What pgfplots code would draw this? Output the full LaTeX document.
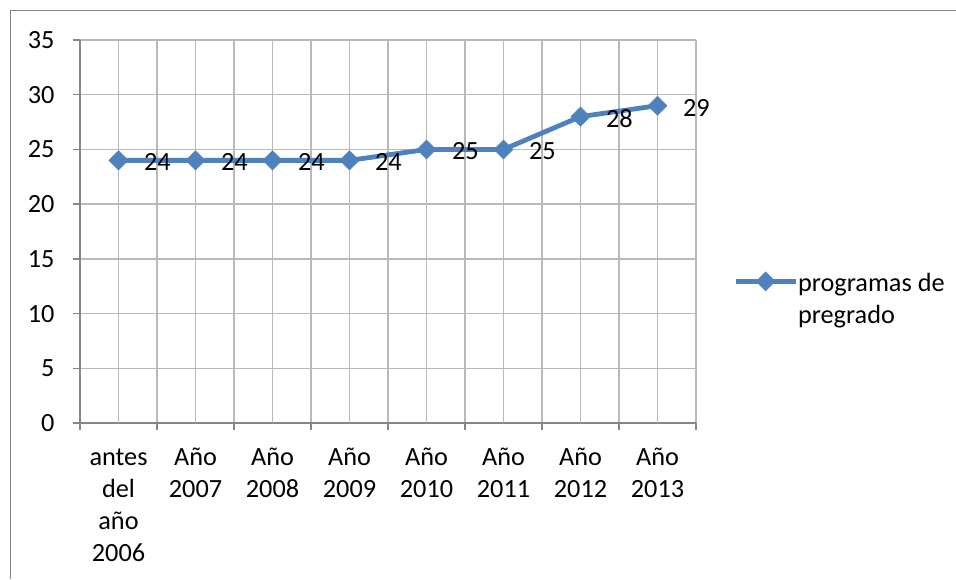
\documentclass[border=0pt]{standalone}
\usepackage{fontspec}
\setmainfont{Carlito}
\usepackage{pgfplots}
\pgfplotsset{compat=1.18}
\definecolor{serie}{RGB}{79,129,189}
\definecolor{axisgray}{RGB}{134,134,134}
\definecolor{gridgray}{RGB}{185,185,185}
\newcommand{\cf}{\fontsize{19.7}{24}\selectfont}
\begin{document}
\begin{tikzpicture}
\useasboundingbox (0pt,0pt) rectangle (717pt,-434.25pt);
\draw[axisgray, line width=1.1pt] (7.9pt,-434.25pt) -- (7.9pt,-7.9pt) -- (717pt,-7.9pt);
\begin{axis}[
  at={(60pt,-317.25pt)}, anchor=south west,
  scale only axis, width=462pt, height=287.25pt,
  xmin=-0.5, xmax=7.5, ymin=0, ymax=35,
  axis lines*=left,
  axis line style={-, axisgray, line width=1.1pt},
  xtick={-0.5,0.5,...,7.5}, xticklabels={},
  ytick={0,5,...,35},
  xmajorgrids, ymajorgrids,
  major grid style={gridgray, line width=1pt},
  tick align=outside, major tick length=5.5pt,
  tick style={axisgray, line width=1.1pt},
  /pgf/number format/assume math mode=true,
  tick label style={font=\cf, black},
  yticklabel style={anchor=east, inner sep=0pt, xshift=-13.5pt},
  extra x ticks={0,1,2,3,4,5,6,7},
  extra x tick labels={{\strut antes\\del\\año\\2006},{\strut Año\\2007},{\strut Año\\2008},{\strut Año\\2009},{\strut Año\\2010},{\strut Año\\2011},{\strut Año\\2012},{\strut Año\\2013}},
  extra x tick style={major tick length=0pt, grid=major,
    xticklabel style={align=center, anchor=north, inner sep=0pt, yshift=-14.7pt}},
  legend style={draw=none, fill=none, inner sep=0pt, row sep=7pt,
    at={(axis description cs:1.060,0.40)}, anchor=north west,
    nodes={inner sep=0pt, text height=16pt, text depth=1pt, font=\cf},
    /tikz/every even column/.style={column sep=1pt}},
  legend cell align=left,
  legend image code/.code={\draw[mark repeat=2,mark phase=2,#1] plot coordinates {(0pt,0pt) (22.5pt,0pt) (45pt,0pt)};},
]
\addplot[serie, line width=3.6pt, mark=square*, mark size=5pt,
  mark options={rotate=45, line width=0.5pt, fill=serie},
  nodes near coords,
  every node near coord/.append style={anchor=west, inner sep=0pt, xshift=19pt, yshift=-1.5pt, font=\cf, black}]
  coordinates {(0,24) (1,24) (2,24) (3,24) (4,25) (5,25) (6,28) (7,29)};
\addlegendentry{programas de}
\addlegendimage{empty legend}
\addlegendentry{pregrado}
\end{axis}
\end{tikzpicture}
\end{document}
